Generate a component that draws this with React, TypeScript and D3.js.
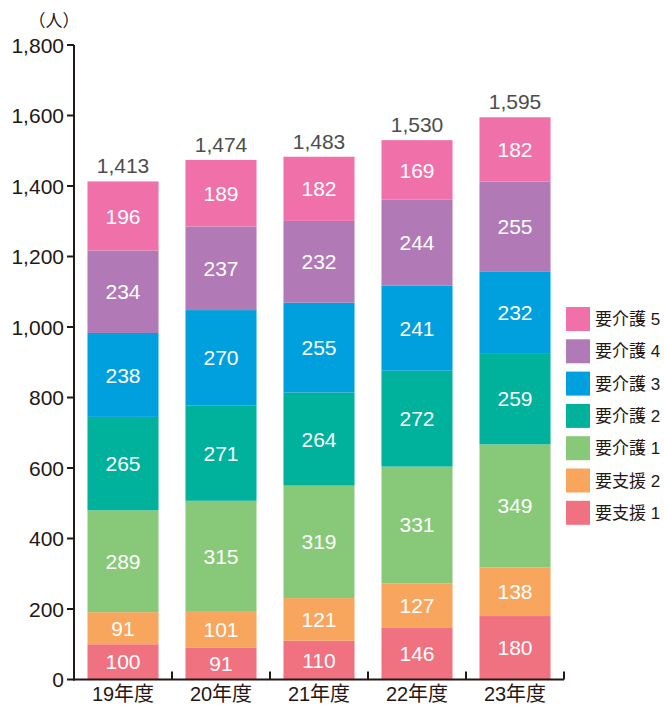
import React from "react";
import * as d3 from "d3";

const categories = ["19年度", "20年度", "21年度", "22年度", "23年度"];
const seriesNames = ["要支援１", "要支援２", "要介護１", "要介護２", "要介護３", "要介護４", "要介護５"];
const legendLabels = ["要支援 1", "要支援 2", "要介護 1", "要介護 2", "要介護 3", "要介護 4", "要介護 5"];
const shienn1 = [100, 91, 110, 146, 180];
const shien2 = [91, 101, 121, 127, 138];
const kaigo1 = [289, 315, 319, 331, 349];
const kaigo2 = [265, 271, 264, 272, 259];
const kaigo3 = [238, 270, 255, 241, 232];
const kaigo4 = [234, 237, 232, 244, 255];
const kaigo5 = [196, 189, 182, 169, 182];
const totals = [1413, 1474, 1483, 1530, 1595];
const yTicks = [0, 200, 400, 600, 800, 1000, 1200, 1400, 1600, 1800];
const colors = ["#F07281", "#F8A65E", "#88C979", "#00B19C", "#00A0DE", "#B17AB6", "#F070A9"];

const seriesValues = [shienn1, shien2, kaigo1, kaigo2, kaigo3, kaigo4, kaigo5];

const W = 665;
const H = 707;
const FONT = "'Liberation Sans', 'Noto Sans CJK JP', sans-serif";

export default function App() {
  const x = d3.scaleBand<string>().domain(categories).range([74, 564]).paddingInner(0.275).paddingOuter(0.1375);
  const y = d3.scaleLinear().domain([0, 1800]).range([679.5, 45]);

  const rows = categories.map((c, i) => {
    const r: any = { cat: c };
    seriesNames.forEach((s, k) => (r[s] = seriesValues[k][i]));
    return r;
  });
  const stack = d3.stack<any>().keys(seriesNames)(rows);

  const fmt = d3.format(",");
  const bounds = categories.map((c) => (x(c) as number) + x.bandwidth() + (x.step() - x.bandwidth()) / 2);

  return (
    <svg width={W} height={H} style={{ position: "absolute", left: 0, top: 0 }} fontFamily={FONT}>
      {stack.map((layer, k) => (
        <g key={k}>
          {layer.map((d, i) => {
            const x0 = x(categories[i]) as number;
            const y0 = y(d[1]);
            const y1 = y(d[0]);
            return (
              <g key={i}>
                <rect x={x0} y={y0} width={x.bandwidth()} height={y1 - y0} fill={colors[k]} />
                <text
                  x={x0 + x.bandwidth() / 2}
                  y={(y0 + y1) / 2}
                  dy="0.36em"
                  textAnchor="middle"
                  fill="#fff"
                  fontSize={21}
                >
                  {seriesValues[k][i]}
                </text>
              </g>
            );
          })}
        </g>
      ))}
      {categories.map((c, i) => (
        <text
          key={c}
          x={(x(c) as number) + x.bandwidth() / 2}
          y={y(totals[i]) - 8}
          textAnchor="middle"
          fill="#4d4d4d"
          fontSize={21}
        >
          {fmt(totals[i])}
        </text>
      ))}
      {/* y axis */}
      <line x1={74} x2={74} y1={y(1800)} y2={y(0) + 1} stroke="#231815" strokeWidth={2} />
      {yTicks.map((t) => (
        <g key={t}>
          <line x1={67} x2={74} y1={y(t)} y2={y(t)} stroke="#231815" strokeWidth={2} />
          <text x={64} y={y(t)} dy="0.36em" textAnchor="end" fill="#231815" fontSize={21}>
            {fmt(t)}
          </text>
        </g>
      ))}
      <text x={54} y={27} textAnchor="middle" fill="#231815" fontSize={17}>
        （人）
      </text>
      {/* x axis */}
      <line x1={73} x2={564} y1={y(0)} y2={y(0)} stroke="#231815" strokeWidth={2} />
      {bounds.map((b, i) => (
        <line key={i} x1={b} x2={b} y1={y(0)} y2={y(0) - 8} stroke="#231815" strokeWidth={2} />
      ))}
      {categories.map((c) => (
        <text
          key={c}
          x={(x(c) as number) + x.bandwidth() / 2}
          y={701}
          textAnchor="middle"
          fill="#231815"
          fontSize={20}
        >
          {c}
        </text>
      ))}
      {/* legend */}
      {legendLabels
        .map((l, k) => ({ l, k }))
        .reverse()
        .map(({ l, k }, j) => (
          <g key={l} transform={`translate(566, ${307 + j * 32.3})`}>
            <rect x={0} y={0} width={24} height={24} fill={colors[k]} />
            <text x={29} y={12} dy="0.36em" fill="#231815" fontSize={17}>
              {l}
            </text>
          </g>
        ))}
    </svg>
  );
}
